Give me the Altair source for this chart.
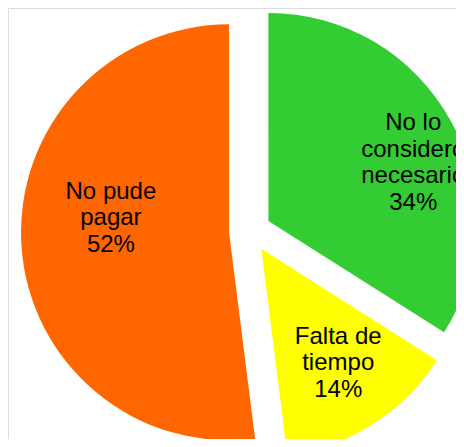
import altair as alt
import pandas as pd

# ---- data ----
categories = ["No lo considero necesario", "Falta de tiempo", "No pude pagar"]
label_lines = ["No lo\nconsidero\nnecesario", "Falta de\ntiempo", "No pude\npagar"]
percents = [34, 14, 52]

# ---- style ----
colors = ["#33CC33", "#FFFF00", "#FF6600"]
CX, CY = 242, 223          # pie centre inside the plot area (px)
R = 208                    # pie radius
EXPLODE = 21               # outward shift of each slice
FONT_SIZE = 24
LINE_H = 26.5
label_r = [156, 138, 119]  # label distance from slice apex
label_dtheta = [7.0, -1.5, 10.5]  # label angle tweak (degrees)

labels = [f"{l}\n{p}%" for l, p in zip(label_lines, percents)]
df = pd.DataFrame({
    "category": categories,
    "value": percents,
    "label": labels,
    "nlines": [len(s.split("\n")) for s in labels],
    "order": list(range(len(categories))),
    "lr": label_r,
    "ldt": label_dtheta,
})

base = (
    alt.Chart(df)
    .transform_window(end="sum(value)", sort=[alt.SortField("order")],
                      frame=[None, 0])
    .transform_calculate(start="datum.end - datum.value")
    .transform_calculate(
        t0="2*PI*datum.start/100",
        t1="2*PI*datum.end/100",
    )
    .transform_calculate(mid="(datum.t0 + datum.t1)/2")
    .transform_calculate(
        cx=f"{CX} + {EXPLODE}*sin(datum.mid)",
        cy=f"{CY} - {EXPLODE}*cos(datum.mid)",
    )
    .transform_calculate(
        tx="datum.cx + datum.lr*sin(datum.mid + datum.ldt*PI/180)",
        ty=f"datum.cy - datum.lr*cos(datum.mid + datum.ldt*PI/180)"
           f" - (datum.nlines - 1)*{LINE_H}/2",
    )
)

arcs = base.mark_arc(radius=R, strokeWidth=0).encode(
    x=alt.X("cx:Q", scale=None, axis=None),
    y=alt.Y("cy:Q", scale=None, axis=None),
    theta=alt.Theta("t0:Q", scale=None),
    theta2="t1:Q",
    color=alt.Color("category:N",
                    scale=alt.Scale(domain=categories, range=colors),
                    legend=None),
)

texts = base.mark_text(
    font="Liberation Sans", fontSize=FONT_SIZE, lineBreak="\n",
    lineHeight=LINE_H, align="center", baseline="middle", color="black",
).encode(
    x=alt.X("tx:Q", scale=None, axis=None),
    y=alt.Y("ty:Q", scale=None, axis=None),
    text="label:N",
)

chart = (
    alt.layer(arcs, texts)
    .properties(width=448, height=431, padding=0,
                autosize=alt.AutoSizeParams(type="none"))
    .configure_view(stroke="transparent", strokeWidth=0)
    .configure(background="white")
)

chart.save("out.html", embed_options={"renderer": "svg", "actions": False})
